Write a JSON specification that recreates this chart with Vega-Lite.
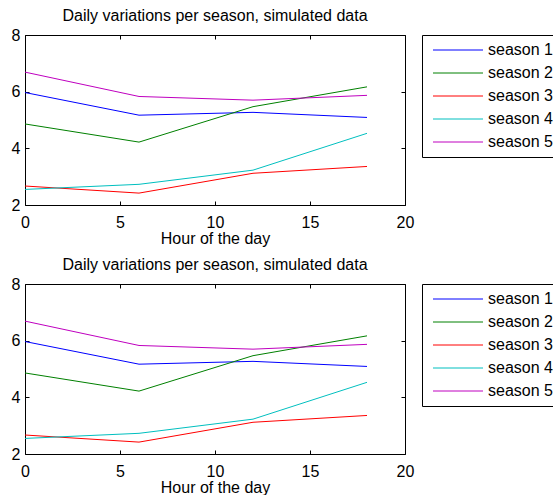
{
  "$schema": "https://vega.github.io/schema/vega-lite/v6.json",
  "padding": {"left": 10, "top": 7, "right": 0, "bottom": 0},
  "background": "white",
  "config": {
    "font": "Liberation Sans",
    "view": {"stroke": "black", "strokeWidth": 1},
    "axis": {
      "domain": false,
      "grid": false,
      "tickColor": "black",
      "tickSize": 4,
      "tickWidth": 1,
      "offset": -4,
      "labelColor": "black",
      "labelFontSize": 16,
      "labelFlush": false,
      "titleColor": "black",
      "titleFontSize": 16,
      "titleFontWeight": "normal"
    },
    "title": {"fontSize": 16, "fontWeight": "normal", "color": "black", "offset": 3},
    "legend": {"labelFontSize": 16}
  },
  "datasets": {
    "s": [
      {"season": "season 1", "hour": 0, "value": 5.97},
      {"season": "season 1", "hour": 6, "value": 5.17},
      {"season": "season 1", "hour": 12, "value": 5.27},
      {"season": "season 1", "hour": 18, "value": 5.09},
      {"season": "season 2", "hour": 0, "value": 4.86},
      {"season": "season 2", "hour": 6, "value": 4.22},
      {"season": "season 2", "hour": 12, "value": 5.47},
      {"season": "season 2", "hour": 18, "value": 6.17},
      {"season": "season 3", "hour": 0, "value": 2.67},
      {"season": "season 3", "hour": 6, "value": 2.42},
      {"season": "season 3", "hour": 12, "value": 3.12},
      {"season": "season 3", "hour": 18, "value": 3.36},
      {"season": "season 4", "hour": 0, "value": 2.55},
      {"season": "season 4", "hour": 6, "value": 2.73},
      {"season": "season 4", "hour": 12, "value": 3.23},
      {"season": "season 4", "hour": 18, "value": 4.53},
      {"season": "season 5", "hour": 0, "value": 6.69},
      {"season": "season 5", "hour": 6, "value": 5.83},
      {"season": "season 5", "hour": 12, "value": 5.70},
      {"season": "season 5", "hour": 18, "value": 5.87}
    ]
  },
  "spacing": 9,
  "resolve": {"legend": {"color": "independent"}},
  "vconcat": [
    {
      "width": 380,
      "height": 170,
      "title": {"text": "Daily variations per season, simulated data", "fontSize": 16},
      "data": {"name": "s"},
      "layer": [
        {
          "mark": {"type": "line", "strokeWidth": 1},
          "encoding": {
            "x": {"field": "hour", "type": "quantitative", "scale": {"domain": [0, 20], "nice": false},
                  "axis": {"title": "Hour of the day", "values": [0, 5, 10, 15, 20], "labelPadding": 9, "titlePadding": 0}},
            "y": {"field": "value", "type": "quantitative", "scale": {"domain": [2, 8], "nice": false, "zero": false},
                  "axis": {"title": null, "values": [2, 4, 6, 8], "labelPadding": 5}},
            "color": {"field": "season", "type": "nominal",
                      "scale": {"domain": ["season 1", "season 2", "season 3", "season 4", "season 5"],
                                "range": ["#0000FF", "#008000", "#FF0000", "#00BFBF", "#BF00BF"]},
                      "legend": {"orient": "none", "legendX": 397, "legendY": 0, "title": null,
                                 "strokeColor": "black", "fillColor": "white", "padding": 7,
                                 "symbolType": "M-0.8,0H9.2", "symbolSize": 100, "symbolStrokeWidth": 1,
                                 "labelFontSize": 16, "labelColor": "black", "labelOffset": 43, "rowPadding": 7}}
          }
        },
        {
          "mark": {"type": "line", "opacity": 0},
          "encoding": {
            "x": {"field": "hour", "type": "quantitative", "scale": {"domain": [0, 20], "nice": false},
                  "axis": {"orient": "top", "title": null, "labels": false, "values": [0, 5, 10, 15, 20]}},
            "y": {"field": "value", "type": "quantitative", "scale": {"domain": [2, 8], "nice": false, "zero": false},
                  "axis": {"orient": "right", "title": null, "labels": false, "values": [2, 4, 6, 8]}},
            "detail": {"field": "season"}
          }
        }
      ],
      "resolve": {"axis": {"x": "independent", "y": "independent"}}
    },
    {
      "width": 380,
      "height": 170,
      "title": {"text": "Daily variations per season, simulated data", "fontSize": 16},
      "data": {"name": "s"},
      "layer": [
        {
          "mark": {"type": "line", "strokeWidth": 1},
          "encoding": {
            "x": {"field": "hour", "type": "quantitative", "scale": {"domain": [0, 20], "nice": false},
                  "axis": {"title": "Hour of the day", "values": [0, 5, 10, 15, 20], "labelPadding": 9, "titlePadding": 0}},
            "y": {"field": "value", "type": "quantitative", "scale": {"domain": [2, 8], "nice": false, "zero": false},
                  "axis": {"title": null, "values": [2, 4, 6, 8], "labelPadding": 5}},
            "color": {"field": "season", "type": "nominal",
                      "scale": {"domain": ["season 1", "season 2", "season 3", "season 4", "season 5"],
                                "range": ["#0000FF", "#008000", "#FF0000", "#00BFBF", "#BF00BF"]},
                      "legend": {"orient": "none", "legendX": 397, "legendY": 0, "title": null,
                                 "strokeColor": "black", "fillColor": "white", "padding": 7,
                                 "symbolType": "M-0.8,0H9.2", "symbolSize": 100, "symbolStrokeWidth": 1,
                                 "labelFontSize": 16, "labelColor": "black", "labelOffset": 43, "rowPadding": 7}}
          }
        },
        {
          "mark": {"type": "line", "opacity": 0},
          "encoding": {
            "x": {"field": "hour", "type": "quantitative", "scale": {"domain": [0, 20], "nice": false},
                  "axis": {"orient": "top", "title": null, "labels": false, "values": [0, 5, 10, 15, 20]}},
            "y": {"field": "value", "type": "quantitative", "scale": {"domain": [2, 8], "nice": false, "zero": false},
                  "axis": {"orient": "right", "title": null, "labels": false, "values": [2, 4, 6, 8]}},
            "detail": {"field": "season"}
          }
        }
      ],
      "resolve": {"axis": {"x": "independent", "y": "independent"}}
    }
  ]
}
